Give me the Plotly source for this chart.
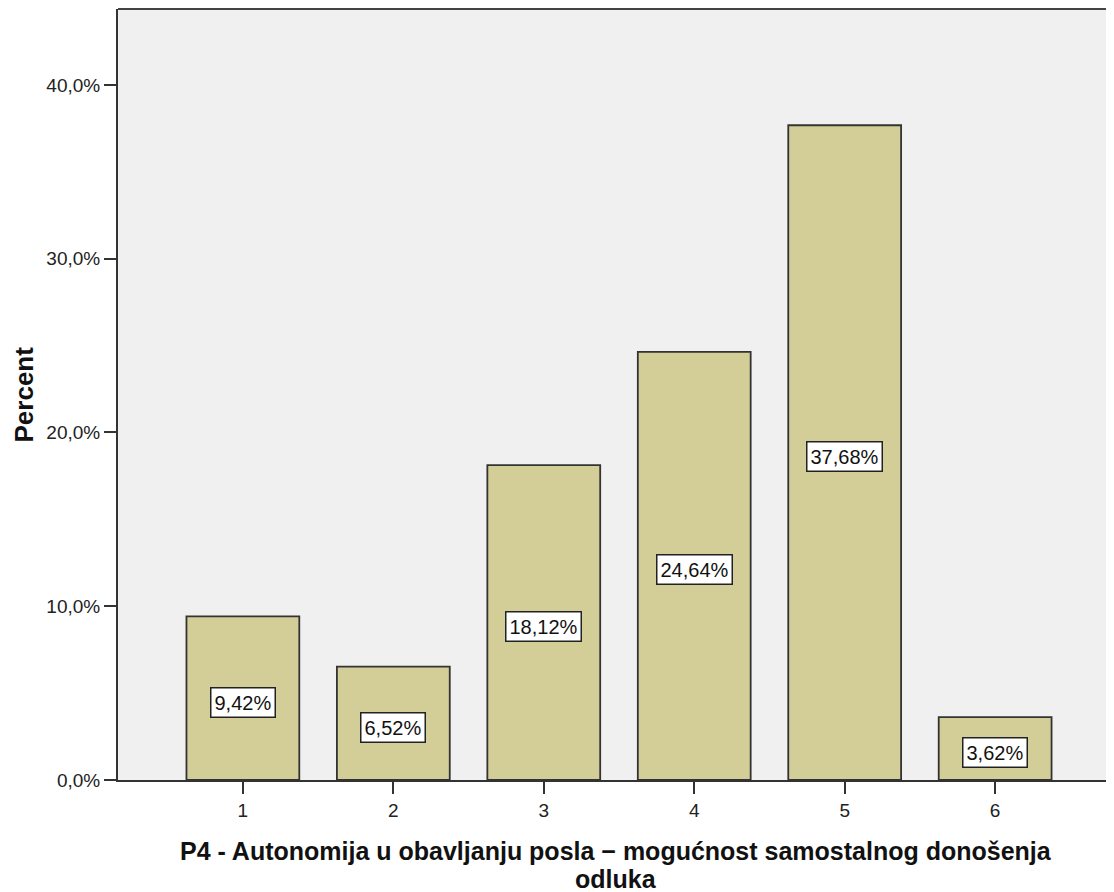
import plotly.graph_objects as go

categories = [1, 2, 3, 4, 5, 6]
percent = [9.42, 6.52, 18.12, 24.64, 37.68, 3.62]
tick_vals = [0, 10, 20, 30, 40]
tick_text = [f"{v:.1f}%".replace(".", ",") for v in tick_vals]
x_title_lines = ["P4 - Autonomija u obavljanju posla − mogućnost samostalnog donošenja", "odluka"]
y_title = "Percent"

FONT = "Liberation Sans, Arial, sans-serif"

fig = go.Figure()
fig.add_trace(go.Bar(
    x=categories, y=percent, width=0.75,
    marker=dict(color="#D3CE97", line=dict(color="#333333", width=1.8)),
    showlegend=False, hoverinfo="skip",
))

for c, v in zip(categories, percent):
    fig.add_annotation(
        x=c, y=v / 2, xref="x", yref="y",
        text=(f"{v:.2f}%").replace(".", ","),
        showarrow=False, yshift=-4,
        font=dict(family=FONT, size=20, color="#111"),
        bgcolor="white", bordercolor="#222", borderwidth=1.5, borderpad=3,
    )

# top frame line
fig.add_shape(type="line", xref="paper", yref="paper", x0=0, x1=1, y0=1, y1=1,
              line=dict(color="#444", width=2))

# x axis title (two lines, tight spacing)
for i, line in enumerate(x_title_lines):
    fig.add_annotation(
        x=0.5, y=0, xref="paper", yref="paper", xanchor="center", yanchor="middle",
        yshift=-71 - 28 * i, showarrow=False, text=f"<b>{line}</b>",
        font=dict(family=FONT, size=25, color="#111"),
    )

# y axis title
fig.add_annotation(
    x=0, y=0.5, xref="paper", yref="paper", xanchor="center", yanchor="middle",
    xshift=-95, showarrow=False, textangle=-90, text=f"<b>{y_title}</b>",
    font=dict(family=FONT, size=26, color="#111"),
)

fig.update_layout(
    width=1106, height=884,
    margin=dict(l=110, r=0, t=1, b=112, pad=0),
    paper_bgcolor="white", plot_bgcolor="#F0F0F0",
    font=dict(family=FONT, color="#222"),
    xaxis=dict(
        range=[0.17, 6.79], tickvals=categories, ticktext=[str(c) for c in categories],
        ticks="outside", ticklen=12, tickwidth=2, tickcolor="#333",
        showline=True, linecolor="#333", linewidth=2, showgrid=False, zeroline=False,
        tickfont=dict(size=19, color="#222"),
    ),
    yaxis=dict(
        range=[0, 44.37], tickvals=tick_vals, ticktext=tick_text,
        ticks="outside", ticklen=12, tickwidth=2, tickcolor="#333",
        showline=True, linecolor="#333", linewidth=2, showgrid=False, zeroline=False,
        tickfont=dict(size=19, color="#222"),
    ),
)

fig.write_html("out.html")
